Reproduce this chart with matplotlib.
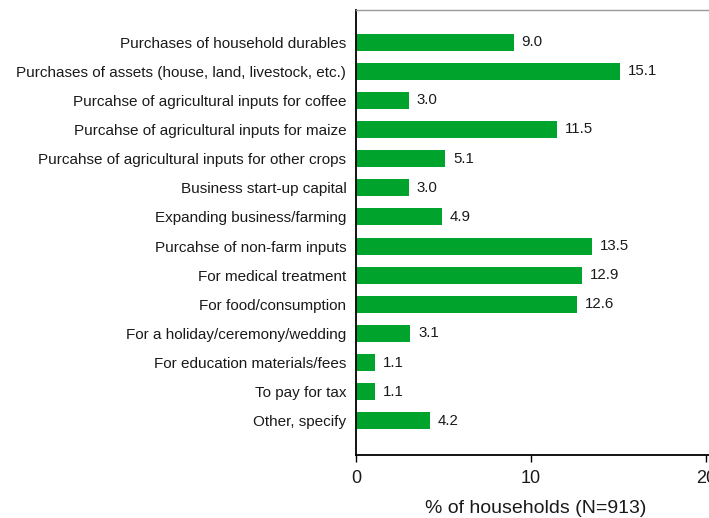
import matplotlib
matplotlib.use("Agg")
import matplotlib.pyplot as plt
import numpy as np

plt.rcParams['font.family'] = ['Liberation Sans', 'DejaVu Sans']

categories = [
    "Purchases of household durables",
    "Purchases of assets (house, land, livestock, etc.)",
    "Purcahse of agricultural inputs for coffee",
    "Purcahse of agricultural inputs for maize",
    "Purcahse of agricultural inputs for other crops",
    "Business start-up capital",
    "Expanding business/farming",
    "Purcahse of non-farm inputs",
    "For medical treatment",
    "For food/consumption",
    "For a holiday/ceremony/wedding",
    "For education materials/fees",
    "To pay for tax",
    "Other, specify",
]
values = [9.0, 15.1, 3.0, 11.5, 5.1, 3.0, 4.9, 13.5, 12.9, 12.6, 3.1, 1.1, 1.1, 4.2]
xticks = [0, 10, 20]

fig = plt.figure(figsize=(7.09, 5.18), dpi=100)
ax = fig.add_axes([356 / 709, 63 / 518, 20.5 * 17.5 / 709, 445 / 518])

y = np.arange(len(categories))
ax.barh(y, values, height=0.58, color="#00a32c")
for yi, v in zip(y, values):
    ax.text(v + 0.45, yi, "%.1f" % v, va="center", ha="left", fontsize=10.8, color="#1a1a1a")

ax.set_yticks(y)
ax.set_yticklabels(categories, fontsize=11, color="#1a1a1a")
ax.tick_params(axis="y", length=0, pad=7)
ax.set_ylim(14.17, -1.1)

ax.set_xlim(0, 20.5)
ax.set_xticks(xticks)
ax.set_xticklabels([str(t) for t in xticks], fontsize=13, color="#1a1a1a")
ax.tick_params(axis="x", length=5, width=1, direction="out", pad=6)
ax.set_xlabel("% of households (N=913)", fontsize=14, labelpad=9, color="#1a1a1a")

ax.spines["right"].set_visible(False)
ax.spines["top"].set_color("#999999")
ax.spines["top"].set_linewidth(1)
ax.spines["left"].set_linewidth(1.3)
ax.spines["bottom"].set_linewidth(1.3)

fig.savefig("out.png", dpi=100)
